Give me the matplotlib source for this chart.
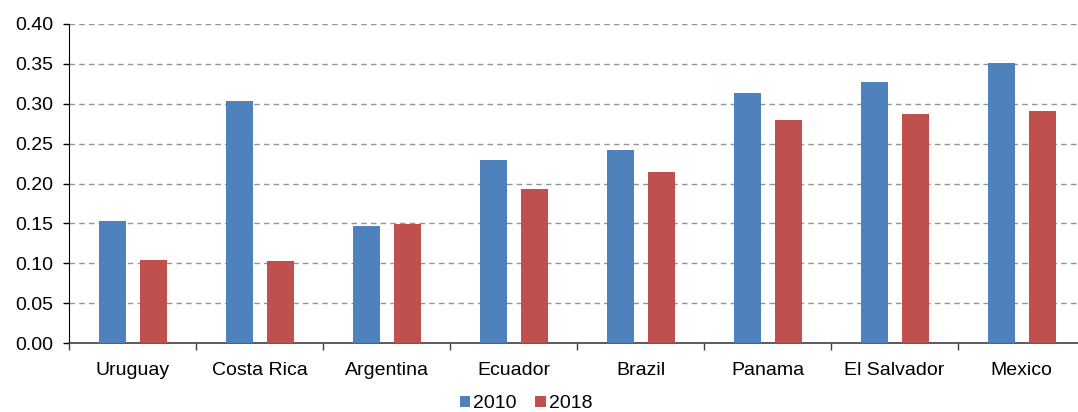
import matplotlib.pyplot as plt
import numpy as np

plt.rcParams['font.family'] = ['Liberation Sans', 'DejaVu Sans']

countries = ['Uruguay', 'Costa Rica', 'Argentina', 'Ecuador', 'Brazil',
             'Panama', 'El Salvador', 'Mexico']
v2010 = [0.153, 0.303, 0.147, 0.229, 0.242, 0.313, 0.327, 0.351]
v2018 = [0.104, 0.103, 0.149, 0.193, 0.214, 0.280, 0.287, 0.291]
yticks = [0.00, 0.05, 0.10, 0.15, 0.20, 0.25, 0.30, 0.35, 0.40]

blue = '#4F81BD'
red = '#C0504D'
fs = 14

fig = plt.figure(figsize=(10.78, 4.12), dpi=100)
ax = fig.add_axes([69/1078, 1 - 343/412, 1016/1078, 319/412])

x = np.arange(len(countries))
w = 0.21
ax.bar(x - 0.16, v2010, w, color=blue, label='2010', zorder=3)
ax.bar(x + 0.165, v2018, w, color=red, label='2018', zorder=3)

ax.set_xlim(-0.5, len(countries) - 0.5)
ax.set_ylim(0, 0.40)
ax.set_yticks(yticks)
ax.set_yticklabels(['%.2f' % t for t in yticks], fontsize=fs)
ax.yaxis.grid(True, linestyle=(0, (4, 3)), color='#959595', linewidth=1.0, zorder=0)

ax.set_xticks(x)
ax.set_xticklabels(countries, fontsize=fs)
ax.tick_params(axis='x', which='major', length=0, pad=14)
ax.set_xticks(np.arange(-0.5, len(countries), 1.0), minor=True)
ax.tick_params(axis='x', which='minor', length=5, width=1, color='#404040', direction='out')
ax.tick_params(axis='y', length=4.5, width=1, direction='out', pad=7)

for s in ['top', 'right']:
    ax.spines[s].set_visible(False)
ax.spines['left'].set_color('black')
ax.spines['bottom'].set_color('#404040')
ax.spines['bottom'].set_linewidth(1.2)

fig.legend(loc='center', bbox_to_anchor=(526/1078, 1 - 404/412), ncol=2,
           frameon=False, fontsize=fs, handlelength=0.55, handleheight=0.55,
           handletextpad=0.15, columnspacing=0.95, borderaxespad=0, borderpad=0)

fig.savefig('out.png', dpi=100)
